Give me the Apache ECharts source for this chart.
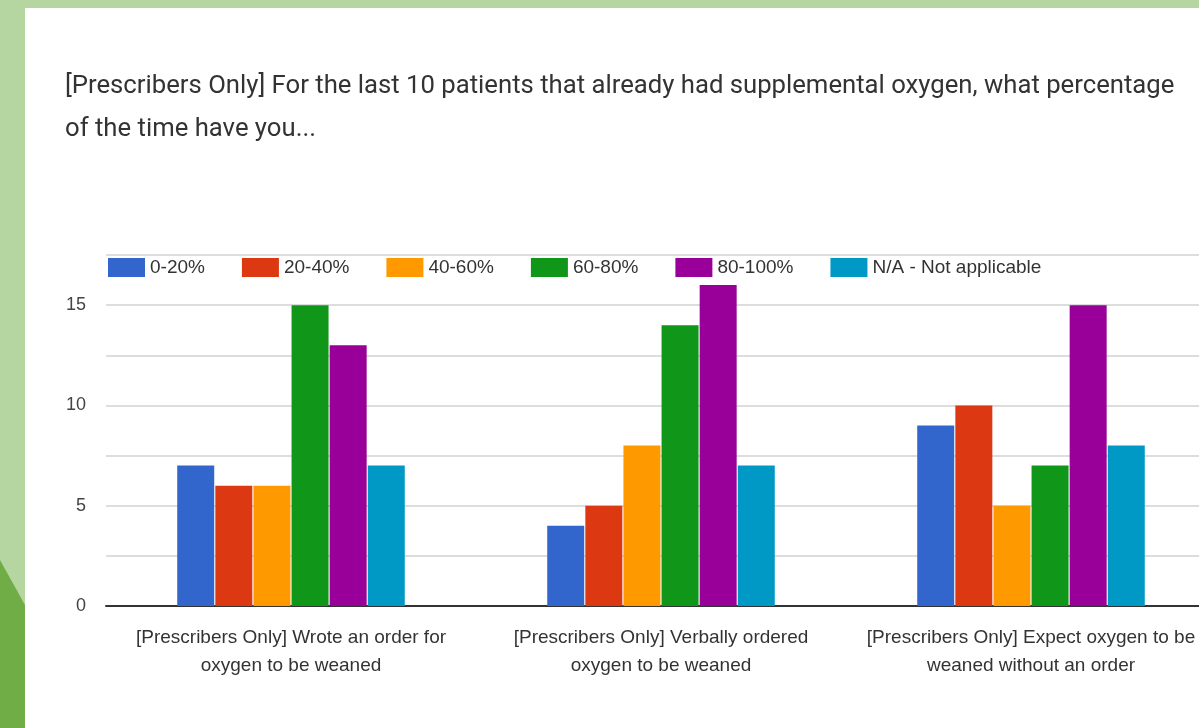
<!DOCTYPE html>
<html>
<head>
<meta charset="utf-8">
<script src="https://cdn.jsdelivr.net/npm/echarts@6/dist/echarts.min.js"></script>
<style>
html,body{margin:0;padding:0;width:1199px;height:728px;overflow:hidden;background:#b6d6a1;}
#chart{position:absolute;left:0;top:0;width:1240px;height:728px;}
</style>
</head>
<body>
<div id="chart"></div>
<script>
var titleText = "[Prescribers Only] For the last 10 patients that already had supplemental oxygen, what percentage\nof the time have you...";
var categories = [
  "[Prescribers Only] Wrote an order for\noxygen to be weaned",
  "[Prescribers Only] Verbally ordered\noxygen to be weaned",
  "[Prescribers Only] Expect oxygen to be\nweaned without an order"
];
var seriesNames = ["0-20%", "20-40%", "40-60%", "60-80%", "80-100%", "N/A - Not applicable"];
var colors = ["#3366cc", "#dc3912", "#ff9900", "#109618", "#990099", "#0099c6"];
var v0_20 = [7, 4, 9];
var v20_40 = [6, 5, 10];
var v40_60 = [6, 8, 5];
var v60_80 = [15, 14, 7];
var v80_100 = [13, 16, 15];
var vNA = [7, 7, 8];
var seriesValues = [v0_20, v20_40, v40_60, v60_80, v80_100, vNA];

var chart = echarts.init(document.getElementById('chart'), null, {renderer: 'canvas'});
var series = seriesNames.map(function (n, i) {
  return {
    name: n,
    type: 'bar',
    data: seriesValues[i],
    barWidth: 37,
    barGap: '3%',
    itemStyle: {color: colors[i]},
    emphasis: {disabled: true}
  };
});
chart.setOption({
  animation: false,
  color: colors,
  graphic: [
    {type: 'polygon', z: -10, silent: true, shape: {points: [[0, 560], [25, 605], [25, 728], [0, 728]]}, style: {fill: '#70ad47'}},
    {type: 'rect', z: -10, silent: true, shape: {x: 25, y: 8, width: 1300, height: 730}, style: {fill: '#ffffff'}}
  ],
  title: {
    text: titleText,
    left: 60,
    top: 60,
    textStyle: {fontFamily: 'Roboto', fontSize: 25.7, fontWeight: 'normal', color: '#333333', lineHeight: 43}
  },
  legend: {
    data: seriesNames,
    left: 103,
    top: 253,
    itemWidth: 37,
    itemHeight: 19,
    itemGap: 37,
    icon: 'rect',
    textStyle: {fontFamily: 'Liberation Sans', fontSize: 19, color: '#333333'}
  },
  grid: {left: 106, top: 255, width: 1110, height: 351, containLabel: false},
  xAxis: {
    type: 'category',
    data: categories,
    axisTick: {show: false},
    axisLine: {lineStyle: {color: '#333333', width: 2}},
    axisLabel: {
      fontFamily: 'Liberation Sans', fontSize: 19, color: '#333333', lineHeight: 28, margin: 18, interval: 0
    }
  },
  yAxis: {
    type: 'value',
    min: 0,
    max: 17.5,
    interval: 2.5,
    axisLine: {show: false},
    axisTick: {show: false},
    splitLine: {lineStyle: {color: '#dddddd', width: 2}},
    axisLabel: {
      fontFamily: 'Liberation Sans', fontSize: 18, color: '#444444', margin: 20,
      formatter: function (v) { return (v % 5 === 0) ? String(v) : ''; }
    }
  },
  series: series
});
</script>
</body>
</html>
